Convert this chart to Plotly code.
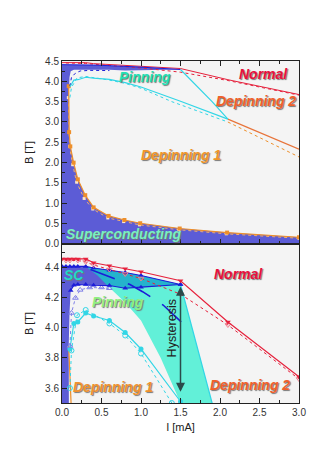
import plotly.graph_objects as go

# ---------------- data ----------------
# Normal-state boundary (red), solid with markers and dotted
I_norm = [0.0, 0.05, 0.1, 0.15, 0.2, 0.3, 0.4, 0.6, 0.8, 1.0, 1.5, 2.1, 3.0]
B_norm = [4.46, 4.46, 4.46, 4.46, 4.46, 4.46, 4.435, 4.415, 4.395, 4.375, 4.315, 4.04, 3.675]
I_norm_dot = [0.05, 0.1, 0.2, 0.3, 0.4, 0.6, 0.8, 1.0, 1.5, 2.1, 3.0]
B_norm_dot = [4.45, 4.45, 4.45, 4.44, 4.42, 4.39, 4.36, 4.33, 4.225, 4.02, 3.66]

# Superconducting boundaries (blue)
I_sc_up = [0.0, 0.05, 0.1, 0.15, 0.2, 0.3, 0.4, 0.6, 0.8, 1.0, 1.5]
B_sc_up = [4.41, 4.41, 4.41, 4.41, 4.41, 4.41, 4.40, 4.385, 4.37, 4.35, 4.29]
I_sc_lo = [0.09, 0.095, 0.11, 0.15, 0.2, 0.3, 0.4, 0.6, 0.8, 1.0, 1.5]
B_sc_lo = [3.9, 4.1, 4.25, 4.285, 4.29, 4.29, 4.285, 4.283, 4.265, 4.272, 4.29]
I_sc_dot = [0.1, 0.12, 0.17, 0.23, 0.35, 0.5, 0.6]
B_sc_dot = [3.88, 4.1, 4.2, 4.254, 4.27, 4.27, 4.265]

# Depinning-1 lower boundary (orange squares)
I_dep1 = [0.085, 0.09, 0.105, 0.147, 0.2, 0.294, 0.4, 0.59, 0.79, 0.99, 1.49, 2.09, 3.0]
B_dep1 = [3.88, 2.75, 2.4, 2.0, 1.59, 1.2, 0.9, 0.69, 0.59, 0.51, 0.38, 0.28, 0.165]
I_dep1_dot = [0.08, 0.095, 0.135, 0.185, 0.28, 0.39, 0.58, 0.78, 0.98, 1.48, 2.08, 3.0]
B_dep1_dot = [3.6, 2.4, 1.95, 1.52, 1.12, 0.86, 0.64, 0.55, 0.47, 0.35, 0.25, 0.14]

# Pinning boundary (cyan), solid and dotted
I_pin = [0.1, 0.15, 0.2, 0.3, 0.4, 0.6, 0.8, 1.0, 1.5, 2.1]
B_pin = [3.86, 4.03, 4.04, 4.10, 4.08, 4.05, 3.97, 3.86, 3.51, 3.07]
I_pin_dot = [0.1, 0.12, 0.19, 0.3, 0.6, 0.8, 1.0, 1.39, 2.1]
B_pin_dot = [3.6, 3.85, 4.085, 4.12, 4.03, 3.95, 3.83, 3.5, 3.0]

# Depinning-2 boundary (cyan steep line, then orange)
I_dep2 = [1.5, 1.9, 2.1]
B_dep2 = [4.29, 3.5, 3.07]
I_dep2_or = [2.1, 3.0]
B_dep2_or = [3.07, 2.33]
I_dep2_or_dot = [2.1, 3.0]
B_dep2_or_dot = [3.0, 2.14]

# Hysteresis wedge (bottom panel)
I_hys = [0.3, 0.4, 0.6, 0.8, 1.0, 1.5, 1.9, 1.5, 1.25, 1.0, 0.8, 0.6, 0.45, 0.3]
B_hys = [4.41, 4.40, 4.385, 4.37, 4.35, 4.29, 3.5, 3.5, 3.8, 4.05, 4.17, 4.27, 4.35, 4.41]
I_hys_dash = [0.36, 0.86, 1.02, 1.28, 1.54, 1.62]
B_hys_dash = [4.39, 4.29, 4.242, 4.153, 4.025, 3.98]
I_arrow = 1.5
B_arrow = [4.285, 3.575]

# SC filled region built from the boundaries
I_sc_fill = [0.0] + I_sc_up + I_sc_lo[::-1] + I_dep1 + [3.0, 0.0, 0.0]
B_sc_fill = [4.41] + B_sc_up + B_sc_lo[::-1] + B_dep1 + [-0.1, -0.1, 4.41]

RED = "#e6213c"
BLUE = "#1c1cd8"
CYAN = "#32d6e6"
ORANGE = "#ee8f2a"
FILLBLUE = "#5c5cd6"

fig = go.Figure()

def add(x, y, row, **kw):
    xa, ya = ("x", "y") if row == 1 else ("x2", "y2")
    fig.add_trace(go.Scatter(x=x, y=y, xaxis=xa, yaxis=ya, showlegend=False,
                             hoverinfo="skip", **kw))

for row in (1, 2):
    add(I_sc_fill, B_sc_fill, row, mode="lines", fill="toself",
        fillcolor=FILLBLUE, line=dict(width=0))

# bottom panel wedge (semi transparent so it tints the blue band)
add(I_hys, B_hys, 2, mode="lines", fill="toself",
    fillcolor="rgba(0,237,197,0.6)", line=dict(width=0))

# ----- top panel lines -----
add(I_dep1_dot, B_dep1_dot, 1, mode="lines+markers",
    line=dict(color="#f2b070", width=1, dash="dot"),
    marker=dict(symbol="square", size=3, color="#fbe6cc"))
add(I_dep1, B_dep1, 1, mode="lines+markers", line=dict(color=ORANGE, width=1.2),
    marker=dict(symbol="square", size=4, color=ORANGE))
add(I_norm_dot, B_norm_dot, 1, mode="lines", line=dict(color=RED, width=1, dash="dot"))
add(I_norm, B_norm, 1, mode="lines", line=dict(color=RED, width=1))
add(I_sc_dot, B_sc_dot, 1, mode="lines", line=dict(color=BLUE, width=1, dash="dot"))
add(I_sc_up, B_sc_up, 1, mode="lines", line=dict(color=BLUE, width=1))
add(I_pin_dot, B_pin_dot, 1, mode="lines", line=dict(color=CYAN, width=1, dash="dot"))
add(I_pin, B_pin, 1, mode="lines", line=dict(color=CYAN, width=1.2))
add(I_dep2, B_dep2, 1, mode="lines", line=dict(color=CYAN, width=1.2))
add(I_dep2_or_dot, B_dep2_or_dot, 1, mode="lines", line=dict(color=ORANGE, width=1, dash="dot"))
add(I_dep2_or, B_dep2_or, 1, mode="lines", line=dict(color="#e8743a", width=1.2))

# ----- bottom panel lines -----
add(I_dep1, B_dep1, 2, mode="lines", line=dict(color=ORANGE, width=1.2))
add(I_dep2, B_dep2, 2, mode="lines", line=dict(color=CYAN, width=1.2))
add(I_hys_dash, B_hys_dash, 2, mode="lines", line=dict(color=BLUE, width=1.6, dash="26px,14px"))
add(I_pin_dot, B_pin_dot, 2, mode="lines+markers", line=dict(color=CYAN, width=1, dash="dot"),
    marker=dict(symbol="circle-open", size=5, color=CYAN))
add(I_pin, B_pin, 2, mode="lines+markers", line=dict(color=CYAN, width=1.2),
    marker=dict(symbol="circle", size=5, color=CYAN))
add(I_sc_dot, B_sc_dot, 2, mode="lines+markers", line=dict(color="#8080e8", width=1, dash="dot"),
    marker=dict(symbol="triangle-up-open", size=5, color="#8080e8"))
add(I_sc_lo[2:], B_sc_lo[2:], 2, mode="lines+markers", line=dict(color=BLUE, width=1.2),
    marker=dict(symbol="triangle-up", size=5, color=BLUE))
add(I_sc_up, B_sc_up, 2, mode="lines+markers", line=dict(color=BLUE, width=1.2),
    marker=dict(symbol="triangle-up", size=5, color=BLUE))
add(I_norm_dot, B_norm_dot, 2, mode="lines+markers", line=dict(color=RED, width=1, dash="dot"),
    marker=dict(symbol="triangle-down-open", size=5, color="#f08090"))
add(I_norm, B_norm, 2, mode="lines+markers", line=dict(color=RED, width=1.2),
    marker=dict(symbol="triangle-down", size=5, color=RED))

FONT = "Arial, Liberation Sans, sans-serif"
def lab(text, x, y, row, color, size=14):
    fig.add_annotation(text=text, x=x, y=y, xref="x" if row == 1 else "x2",
                       yref="y" if row == 1 else "y2", showarrow=False,
                       font=dict(family=FONT, size=size, color=color, weight="bold",
                                 style="italic", shadow="1px 1px 1px #777"))

lab("Pinning", 1.05, 4.1, 1, "#22e0b4")
lab("Normal", 2.55, 4.17, 1, "#e8103c")
lab("Depinning 2", 2.46, 3.52, 1, "#f0602a")
lab("Depinning 1", 1.5, 2.2, 1, "#f0962a")
lab("Superconducting", 0.78, 0.24, 1, "#78f0c0")
lab("SC", 0.15, 4.355, 2, "#20d8c8")
lab("Pinning", 0.71, 4.17, 2, "#90f080")
lab("Normal", 2.23, 4.357, 2, "#e8103c")
lab("Depinning 1", 0.65, 3.61, 2, "#f0922e")
lab("Depinning 2", 2.38, 3.62, 2, "#f0602a")

fig.add_annotation(text="Hysteresis", x=1.39, y=3.996, xref="x2", yref="y2",
                   showarrow=False, textangle=-90,
                   font=dict(family=FONT, size=12.5, color="#222222"))
fig.add_annotation(x=I_arrow, y=B_arrow[1], ax=I_arrow, ay=B_arrow[0],
                   xref="x2", yref="y2", axref="x2", ayref="y2", text="",
                   showarrow=True, arrowhead=2, arrowside="end+start",
                   arrowsize=1.2, arrowwidth=1.5, arrowcolor="#2a4a4a")

tickfont = dict(family=FONT, size=10, color="#333333")
common_x = dict(range=[0, 3], ticks="inside", ticklen=5, tickcolor="#222", dtick=0.5,
                tickformat=".1f", showline=True, linecolor="#222", linewidth=1,
                showgrid=False, zeroline=False, tickfont=tickfont,
                minor=dict(ticks="inside", ticklen=3, dtick=0.25, tickcolor="#222"))
common_y = dict(ticks="inside", ticklen=5, tickcolor="#222", tickformat=".1f",
                showline=True, linecolor="#222", linewidth=1, mirror=True,
                showgrid=False, zeroline=False, tickfont=tickfont)

fig.update_layout(
    width=334, height=472, paper_bgcolor="white", plot_bgcolor="#f4f4f4",
    margin=dict(l=62, r=35, t=61, b=69),
    xaxis=dict(domain=[0, 1], anchor="y", showticklabels=False, mirror="ticks", **common_x),
    yaxis=dict(domain=[0.465, 1], anchor="x", range=[0, 4.5], dtick=0.5,
               minor=dict(ticks="inside", ticklen=3, dtick=0.25, tickcolor="#222"),
               title=dict(text="B [T]", font=dict(family=FONT, size=11, color="#222"), standoff=9),
               **common_y),
    xaxis2=dict(domain=[0, 1], anchor="y2", mirror=True,
                title=dict(text="I [mA]", font=dict(family=FONT, size=11, color="#222"), standoff=6),
                **common_x),
    yaxis2=dict(domain=[0, 0.465], anchor="x2", range=[3.5, 4.56], dtick=0.2,
                minor=dict(ticks="inside", ticklen=3, dtick=0.1, tickcolor="#222"),
                title=dict(text="B [T]", font=dict(family=FONT, size=11, color="#222"), standoff=9),
                **common_y),
)

fig.write_html("out.html", config={"displayModeBar": False},
               post_script="document.body.style.margin='0';")
